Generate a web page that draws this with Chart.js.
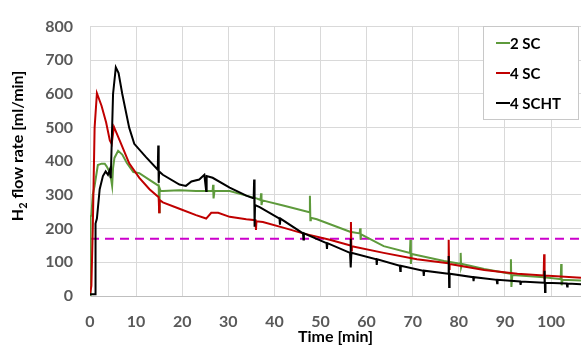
<!DOCTYPE html>
<html>
<head>
<meta charset="utf-8">
<script src="https://cdn.jsdelivr.net/npm/chart.js@4.4.1/dist/chart.umd.min.js"></script>
<style>
  html, body { margin: 0; padding: 0; background: #fff; }
  #wrap { width: 581px; height: 352px; }
</style>
</head>
<body>
<div id="wrap"><canvas id="chart" width="581" height="352"></canvas></div>
<script>
// séries : temps [min] et débit H2 [ml/min]
const greenT = [0, 0.1, 0.15, 0.3, 0.6, 1.0, 1.7, 2.5, 3.2, 3.6, 4.2, 4.6, 4.8, 5.0, 5.3, 6.1, 7, 8, 9.4, 10.7, 12.9, 14.9, 15.0, 15.1, 15.3, 15.8, 19.4, 23, 26.6, 26.7, 26.8, 27, 30.3, 33.9, 36.1, 37.0, 37.1, 37.2, 37.4, 41.9, 47.6, 47.7, 47.8, 47.9, 49.2, 56.4, 58.5, 58.6, 58.7, 58.8, 63.7, 69.4, 69.5, 69.6, 69.8, 76.8, 80.3, 80.4, 80.5, 80.7, 85.5, 91.2, 91.3, 91.4, 91.6, 98.5, 102.1, 102.2, 102.3, 102.5, 106.5];
const greenV = [0, 240, 235, 240, 300, 327, 389, 393, 393, 385, 370, 345, 327, 380, 410, 431, 420, 395, 368, 365, 345, 327, 249, 320, 312, 312, 314, 312, 312, 330, 290, 312, 312, 298, 290, 285, 305, 270, 284, 269, 249, 298, 225, 232, 228, 191, 186, 201, 167, 183, 148, 128, 167, 95, 125, 104, 96, 128, 85, 95, 80, 66, 109, 27, 62, 56, 50, 95, 32, 48, 46];

const redT = [0, 0.3, 0.6, 1.0, 1.5, 2.5, 3.5, 4.3, 4.7, 5.2, 6.5, 8.5, 10.7, 12.9, 14.9, 15.0, 15.1, 15.8, 19.4, 23, 25.2, 26.3, 27.8, 30.3, 33.9, 35.9, 36.0, 36.1, 37.5, 41.9, 46.2, 52, 56.5, 56.6, 56.7, 56.8, 63.7, 70.9, 77.7, 77.8, 77.9, 78.0, 85.5, 92.7, 98.4, 98.5, 98.6, 98.7, 106.5];
const redV = [5, 30, 200, 500, 602, 565, 515, 462, 452, 502, 460, 394, 351, 317, 293, 249, 285, 278, 259, 240, 230, 247, 247, 235, 228, 225, 196, 222, 220, 203, 186, 167, 150, 220, 135, 148, 128, 109, 97, 167, 80, 95, 77, 66, 61, 124, 50, 61, 54];

const blackT = [0, 1.1, 1.2, 1.5, 2.1, 2.8, 3.4, 3.9, 4.3, 4.5, 4.7, 5.0, 5.6, 6.2, 7, 8.5, 9.6, 12.1, 14.7, 14.8, 14.9, 15.0, 15.8, 19.4, 20.8, 22, 23.7, 24.8, 25.2, 25.3, 26.6, 30.3, 33.9, 35.5, 35.6, 35.7, 35.8, 36.8, 41.1, 41.2, 41.3, 46.2, 46.3, 46.4, 51.3, 51.4, 51.5, 56.4, 56.5, 56.6, 56.7, 62.1, 62.2, 62.3, 67.2, 67.3, 67.4, 72.3, 72.4, 72.5, 77.7, 77.8, 77.9, 78.0, 83.1, 83.2, 83.3, 88.2, 88.3, 88.4, 93.3, 93.4, 93.5, 98.5, 98.6, 98.7, 98.8, 103.4, 103.5, 103.6, 106.5];
const blackV = [5, 5, 215, 230, 317, 356, 370, 360, 375, 350, 450, 600, 679, 662, 600, 500, 452, 413, 375, 447, 336, 370, 360, 331, 327, 340, 346, 360, 312, 356, 351, 322, 298, 290, 346, 206, 270, 264, 230, 212, 230, 186, 168, 186, 157, 140, 157, 128, 170, 85, 128, 109, 92, 109, 90, 74, 90, 75, 60, 75, 66, 119, 27, 66, 56, 44, 56, 48, 38, 48, 43, 33, 43, 39, 75, 12, 39, 37, 28, 37, 35];

const limitT = [0, 106.5];
const limitV = [170, 170];

const xTicks = [0, 10, 20, 30, 40, 50, 60, 70, 80, 90, 100];
const seriesNames = ['2 SC', '4 SC', '4 SCHT'];
const seriesColors = ['#5E9A3C', '#C00000', '#000000'];

const pts = (t, v) => t.map((x, i) => ({ x: x, y: v[i] }));

// légende dans la zone du graphique (comme Excel)
const legendBox = {
    id: 'legendBox',
    afterDraw(chart) {
        const ctx = chart.ctx;
        ctx.save();
        ctx.fillStyle = '#ffffff';
        ctx.fillRect(483, 26, 95, 93);
        ctx.strokeStyle = '#c8c8c8';
        ctx.lineWidth = 1;
        ctx.strokeRect(483.5, 26.5, 95, 93);
        ctx.font = 'bold 15px Lato';
        ctx.textBaseline = 'middle';
        seriesNames.forEach((name, i) => {
            const y = 43 + i * 30;
            ctx.strokeStyle = seriesColors[i];
            ctx.lineWidth = 2;
            ctx.beginPath();
            ctx.moveTo(496, y);
            ctx.lineTo(510, y);
            ctx.stroke();
            ctx.fillStyle = '#000';
            ctx.fillText(name, 510, y + 1);
        });
        ctx.restore();
    }
};

// titre de l'axe Y avec indice
const yTitle = {
    id: 'yTitle',
    afterDraw(chart) {
        const ctx = chart.ctx;
        ctx.save();
        ctx.translate(18, 146);
        ctx.rotate(-Math.PI / 2);
        ctx.fillStyle = '#000';
        ctx.textBaseline = 'middle';
        const big = 'bold 16px Lato', small = 'bold 11px Lato';
        ctx.font = big;
        const w1 = ctx.measureText('H').width;
        const w3 = ctx.measureText(' flow rate [ml/min]').width;
        ctx.font = small;
        const w2 = ctx.measureText('2').width;
        let x = -(w1 + w2 + w3) / 2;
        ctx.font = big;
        ctx.fillText('H', x, 0);
        x += w1;
        ctx.font = small;
        ctx.fillText('2', x, 5);
        x += w2;
        ctx.font = big;
        ctx.fillText(' flow rate [ml/min]', x, 0);
        ctx.restore();
    }
};

const lineDs = (label, t, v, color, order) => ({
    label: label,
    data: pts(t, v),
    borderColor: color,
    borderWidth: 2,
    pointRadius: 0,
    tension: 0,
    fill: false,
    order: order
});

new Chart(document.getElementById('chart'), {
    type: 'line',
    data: {
        datasets: [
            lineDs('2 SC', greenT, greenV, seriesColors[0], 3),
            lineDs('4 SC', redT, redV, seriesColors[1], 2),
            lineDs('4 SCHT', blackT, blackV, seriesColors[2], 1),
            Object.assign(lineDs('limit', limitT, limitV, '#CC00CC', 4), { borderDash: [9, 6] })
        ]
    },
    options: {
        responsive: false,
        animation: false,
        layout: { padding: { top: 20, right: 0, left: 0, bottom: 0 } },
        plugins: { legend: { display: false }, tooltip: { enabled: false } },
        scales: {
            x: {
                type: 'linear',
                min: 0,
                max: 106.5,
                afterBuildTicks: s => { s.ticks = xTicks.map(v => ({ value: v })); },
                afterFit: s => { s.height = 56; },
                grid: { color: '#d9d9d9', drawTicks: false },
                border: { color: '#bfbfbf' },
                ticks: { color: '#595959', font: { family: 'Lato', size: 16, weight: 'bold' }, padding: 16, maxRotation: 0 },
                title: { display: true, text: 'Time [min]', color: '#000', font: { family: 'Lato', size: 16, weight: 'bold' }, padding: { top: 0, bottom: 6 } }
            },
            y: {
                min: 0,
                max: 800,
                afterFit: s => { s.width = 90; },
                grid: { color: '#d9d9d9', drawTicks: false },
                border: { color: '#d9d9d9' },
                ticks: { stepSize: 100, color: '#595959', font: { family: 'Lato', size: 16, weight: 'bold' }, padding: 17 }
            }
        }
    },
    plugins: [legendBox, yTitle]
});
</script>
</body>
</html>
